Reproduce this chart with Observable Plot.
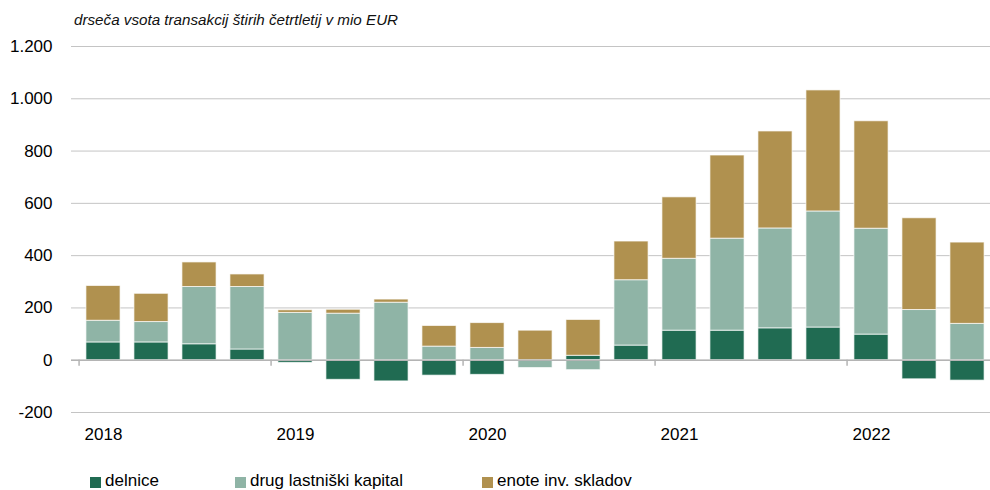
<!DOCTYPE html>
<html>
<head>
<meta charset="utf-8">
<script src="https://cdn.jsdelivr.net/npm/d3@7"></script>
<script src="https://cdn.jsdelivr.net/npm/@observablehq/plot@0.6"></script>
<style>
  html, body { margin: 0; padding: 0; background: #fff; overflow: hidden; }
  #wrap { position: relative; width: 990px; height: 490px; overflow: hidden; font-family: "Liberation Sans", Arial, sans-serif; color: #000; }
  #title { height: 36px; position: relative; }
  #title span { position: absolute; left: 74px; top: 12px; font-size: 15.2px; font-style: italic; line-height: 15px; color: #111; }
  #legend { position: relative; height: 35px; }
  .sw { position: absolute; top: 22px; width: 11px; height: 11px; }
  .lb { position: absolute; top: 17px; font-size: 17px; line-height: 17px; white-space: nowrap; color: #000; }
</style>
</head>
<body>
<div id="wrap">
  <div id="title"><span>drseča vsota transakcij štirih četrtletij v mio EUR</span></div>
  <div id="chart"></div>
  <div id="legend"></div>
</div>
<script>
const quarters = ["2018 Q1","2018 Q2","2018 Q3","2018 Q4","2019 Q1","2019 Q2","2019 Q3","2019 Q4","2020 Q1","2020 Q2","2020 Q3","2020 Q4","2021 Q1","2021 Q2","2021 Q3","2021 Q4","2022 Q1","2022 Q2","2022 Q3"];
const seriesNames = ["delnice", "drug lastniški kapital", "enote inv. skladov"];
const delnice = [68, 68, 61, 41, -10, -75, -81, -59, -56, 0, 17, 56, 113, 113, 122, 125, 98, -73, -78];
const drug = [83, 78, 219, 239, 181, 178, 220, 52, 47, -30, -38, 250, 275, 352, 382, 444, 405, 192, 139];
const enote = [133, 108, 94, 48, 10, 15, 12, 79, 95, 113, 137, 148, 235, 318, 371, 463, 411, 351, 311];
const yTicks = [-200, 0, 200, 400, 600, 800, 1000, 1200];
const colors = ["#206b52", "#8fb4a6", "#b0914f"];

const seriesValues = [delnice, drug, enote];
const table = [];
seriesValues.forEach((vals, s) => {
  vals.forEach((v, i) => {
    if (v !== 0) table.push({quarter: quarters[i], series: seriesNames[s], value: v});
  });
});
const yearStarts = quarters.filter(q => q.endsWith("Q1"));

const fmt = d3.formatLocale({decimal: ",", thousands: ".", grouping: [3], currency: ["", ""], minus: "-"}).format(",");

const W = 990, H = 419, ML = 71;
const xRange = [ML, 999];
const step = (xRange[1] - xRange[0]) / quarters.length;
const barW = 35;

const chart = Plot.plot({
  width: W,
  height: H,
  marginLeft: ML,
  marginRight: 0,
  marginTop: 10,
  marginBottom: 43,
  style: {fontFamily: '"Liberation Sans", Arial, sans-serif', fontSize: "17px", color: "#000", overflow: "hidden", background: "#fff"},
  x: {domain: quarters, range: xRange, padding: 0, label: null},
  y: {domain: [-200, 1200], label: null},
  color: {domain: seriesNames, range: colors},
  marks: [
    Plot.ruleY(yTicks, {stroke: "#c4c4c4", strokeWidth: 1}),
    Plot.barY(table, Plot.stackY({
      x: "quarter", y: "value", fill: "series",
      insetLeft: (step - barW) / 2, insetRight: (step - barW) / 2,
      stroke: "#ffffff", strokeOpacity: 0.7, strokeWidth: 1
    })),
    Plot.ruleY([0], {stroke: "#b4b4b4", strokeWidth: 1.5}),
    Plot.ruleX(yearStarts, {x: d => d, y1: 0, y2: 0, insetBottom: -6, dx: -step / 2, stroke: "#b4b4b4", strokeWidth: 1.5}),
    Plot.axisY({ticks: yTicks, tickFormat: fmt, tickSize: 0, tickPadding: 19, fill: "#000", fontSize: 17, label: null}),
    Plot.axisX({ticks: yearStarts, tickFormat: d => d.slice(0, 4), tickSize: 0, tickPadding: 15, fill: "#000", fontSize: 17, anchor: "bottom", label: null})
  ]
});
document.getElementById("chart").appendChild(chart);

const legend = document.getElementById("legend");
const swX = [90, 235, 482];
const lbX = [105, 250, 497];
seriesNames.forEach((name, i) => {
  const sw = document.createElement("div");
  sw.className = "sw";
  sw.style.left = swX[i] + "px";
  sw.style.background = colors[i];
  legend.appendChild(sw);
  const lb = document.createElement("div");
  lb.className = "lb";
  lb.style.left = lbX[i] + "px";
  lb.textContent = name;
  legend.appendChild(lb);
});
</script>
</body>
</html>
